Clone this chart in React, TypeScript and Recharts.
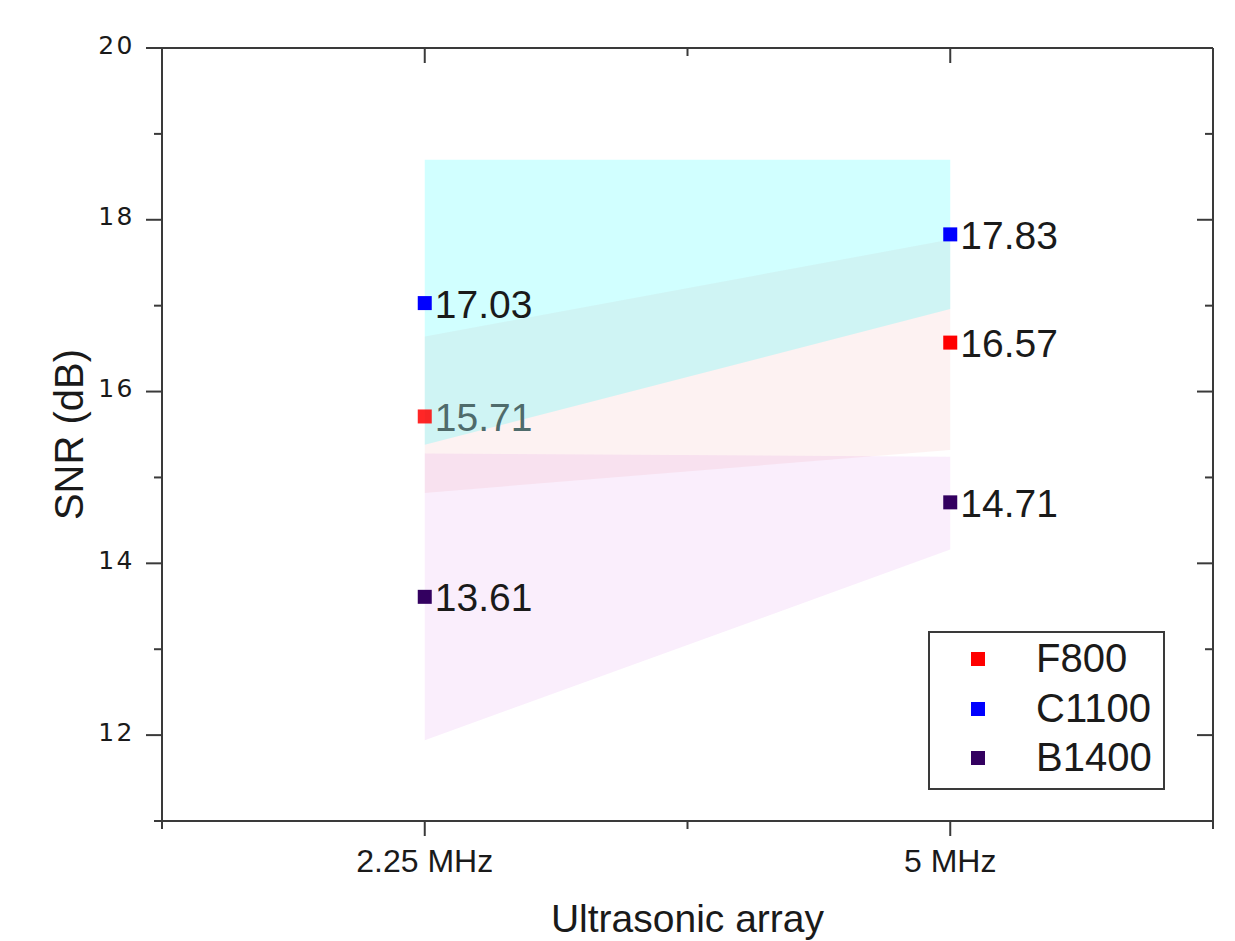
import React from 'react'
import { ComposedChart, Area, Line, XAxis, YAxis, Legend, Label } from 'recharts'

// x categories (placed at 1 and 2 on a numeric axis running 0.5 .. 2.5)
const categories = ['2.25 MHz', '5 MHz']
const seriesNames = ['F800', 'C1100', 'B1400']

// SNR values (dB)
const f800 = [15.71, 16.57]
const c1100 = [17.03, 17.83]
const b1400 = [13.61, 14.71]

// shaded bands [low, high] per category
const f800Band = [[14.82, 16.64], [15.32, 17.77]]
const c1100Band = [[15.38, 18.7], [16.96, 18.7]]
const b1400Band = [[11.94, 15.28], [14.16, 15.24]]

const yTicks = [11, 12, 13, 14, 15, 16, 17, 18, 19, 20]
const xTicks = [0.5, 1, 1.5, 2, 2.5]

const COLORS = {
  F800: '#ff0000',
  C1100: '#0000ff',
  B1400: '#330060',
}

const AXIS = '#3a3a3a'
const TEXT = '#1a1a1a'
const FONT = "'Liberation Sans', Arial, sans-serif"

const data = categories.map((name, i) => ({
  x: i + 1,
  name,
  F800: f800[i],
  C1100: c1100[i],
  B1400: b1400[i],
  F800Band: f800Band[i],
  C1100Band: c1100Band[i],
  B1400Band: b1400Band[i],
}))

// label that sits under the cyan band and looks washed out in the original
const mutedLabels = ['F800:0']

function LeftTick({ x, y, payload }: any) {
  const major = payload.value % 2 === 0
  return (
    <g>
      <line x1={x - (major ? 16 : 8)} x2={x} y1={y} y2={y} stroke={AXIS} strokeWidth={2} />
      {major && (
        <text x={x - 27} y={y - 3} textAnchor="end" dominantBaseline="central"
          fontSize={25} letterSpacing={2.5} fontFamily="'DejaVu Sans', sans-serif" fill={TEXT}>
          {payload.value}
        </text>
      )}
    </g>
  )
}

function RightTick({ x, y, payload }: any) {
  const major = payload.value % 2 === 0
  return <line x1={x - (major ? 16 : 8)} x2={x} y1={y} y2={y} stroke={AXIS} strokeWidth={2} />
}

function BottomTick({ x, y, payload }: any) {
  const major = Number.isInteger(payload.value)
  return (
    <g>
      <line x1={x} x2={x} y1={y} y2={y + (major ? 15 : 8)} stroke={AXIS} strokeWidth={2} />
      {major && (
        <text x={x} y={y + 51} textAnchor="middle" fontSize={32} fontFamily={FONT} fill={TEXT}>
          {categories[payload.value - 1]}
        </text>
      )}
    </g>
  )
}

function TopTick({ x, y, payload }: any) {
  const major = Number.isInteger(payload.value)
  return <line x1={x} x2={x} y1={y} y2={y + (major ? 15 : 8)} stroke={AXIS} strokeWidth={2} />
}

const makeDot = (name: string) => (props: any) => {
  const { cx, cy, value, index } = props
  const muted = mutedLabels.includes(`${name}:${index}`)
  return (
    <g key={`${name}-${index}`}>
      <rect x={cx - 7} y={cy - 7} width={14} height={14} fill={COLORS[name]} opacity={muted ? 0.85 : 1} />
      <text x={cx + 10} y={cy + 1} dominantBaseline="central" fontSize={39} fontFamily={FONT}
        fill={muted ? '#4f6b6b' : TEXT}>
        {value.toFixed(2)}
      </text>
    </g>
  )
}

function LegendBox() {
  return (
    <div style={{
      position: 'relative', width: 237, height: 159, boxSizing: 'border-box',
      border: `2px solid ${AXIS}`, background: '#fff', fontFamily: FONT,
    }}>
      {seriesNames.map((name, i) => (
        <div key={name} style={{ position: 'absolute', left: 0, top: 26 + i * 49.5, width: '100%' }}>
          <div style={{
            position: 'absolute', left: 41, top: -7, width: 14, height: 14, background: COLORS[name],
          }} />
          <div style={{
            position: 'absolute', left: 106, top: -24, fontSize: 40, lineHeight: '46px', color: TEXT,
          }}>
            {name}
          </div>
        </div>
      ))}
    </div>
  )
}

export default function App() {
  return (
    <div style={{ position: 'absolute', left: 0, top: 0, background: '#fff' }}>
      <ComposedChart width={1235} height={941} data={data}
        margin={{ top: 46, right: 20, bottom: 0, left: 82 }}>
        <XAxis xAxisId="bottom" dataKey="x" type="number" domain={[0.5, 2.5]} ticks={xTicks}
          interval={0} allowDataOverflow height={120} tickSize={0} tickMargin={0}
          tickLine={false} axisLine={{ stroke: AXIS, strokeWidth: 2 }} tick={<BottomTick />}>
          <Label content={({ viewBox }: any) => (
            <text x={viewBox.x + viewBox.width / 2} y={932} textAnchor="middle"
              fontSize={39} fontFamily={FONT} fill={TEXT}>
              Ultrasonic array
            </text>
          )} />
        </XAxis>
        <XAxis xAxisId="top" orientation="top" dataKey="x" type="number" domain={[0.5, 2.5]}
          ticks={xTicks} interval={0} allowDataOverflow height={2} tickSize={0} tickMargin={0}
          tickLine={false} axisLine={{ stroke: AXIS, strokeWidth: 2 }} tick={<TopTick />} />
        <YAxis yAxisId="left" type="number" domain={[11, 20]} ticks={yTicks} interval={0}
          allowDataOverflow width={80} tickSize={0} tickMargin={0} tickLine={false}
          axisLine={{ stroke: AXIS, strokeWidth: 2 }} tick={<LeftTick />}>
          <Label content={({ viewBox }: any) => {
            const cx = 83
            const cy = viewBox.y + viewBox.height / 2
            return (
              <text x={cx} y={cy} textAnchor="middle" transform={`rotate(-90 ${cx} ${cy})`}
                fontSize={40} fontFamily={FONT} fill={TEXT}>
                SNR (dB)
              </text>
            )
          }} />
        </YAxis>
        <YAxis yAxisId="right" orientation="right" type="number" domain={[11, 20]} ticks={yTicks}
          interval={0} allowDataOverflow width={2} tickSize={0} tickMargin={0} tickLine={false}
          axisLine={{ stroke: AXIS, strokeWidth: 2 }} tick={<RightTick />} />

        <Area xAxisId="bottom" yAxisId="left" dataKey="F800Band" type="linear" stroke="none"
          fill="#db0000" fillOpacity={0.05} isAnimationActive={false} legendType="none" />
        <Area xAxisId="bottom" yAxisId="left" dataKey="B1400Band" type="linear" stroke="none"
          fill="#b80cd4" fillOpacity={0.07} isAnimationActive={false} legendType="none" />
        <Area xAxisId="bottom" yAxisId="left" dataKey="C1100Band" type="linear" stroke="none"
          fill="#00ffff" fillOpacity={0.18} isAnimationActive={false} legendType="none" />

        {seriesNames.map((name) => (
          <Line key={name} xAxisId="bottom" yAxisId="left" dataKey={name} stroke="none"
            dot={makeDot(name)} activeDot={false} isAnimationActive={false} />
        ))}

        <Legend layout="horizontal" verticalAlign="middle" align="center" content={<LegendBox />}
          wrapperStyle={{ left: 928, top: 631, width: 237, height: 159 }} />
      </ComposedChart>
    </div>
  )
}
